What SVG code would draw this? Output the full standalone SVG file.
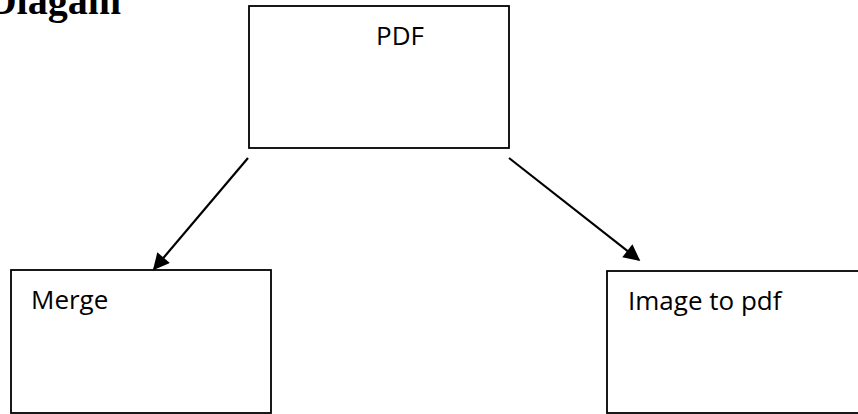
<svg xmlns="http://www.w3.org/2000/svg" width="858" height="414" viewBox="0 0 858 414">
<style>
.box{fill:#fff;stroke:#000;stroke-width:1.8}
.lbl{font-family:"Open Sans","Liberation Sans",sans-serif;font-size:26px;fill:#000}
.con{stroke:#000;stroke-width:2.2;fill:none}
.title{font-family:"Liberation Serif",serif;font-weight:bold;font-size:40px;fill:#000}
</style>
<defs>
<marker id="arr" viewBox="0 0 10 10" refX="9" refY="5" markerWidth="8" markerHeight="7.5" markerUnits="strokeWidth" orient="auto">
<path d="M0,0 L10,5 L0,10 Z" fill="#000"/>
</marker>
</defs>
<rect width="858" height="414" fill="#fff"/>
<text class="title" x="121" y="14" text-anchor="end">Diagam</text>
<g id="connectors">
<line class="con" x1="248" y1="158" x2="154" y2="269" marker-end="url(#arr)"/>
<line class="con" x1="509" y1="158" x2="639" y2="260" marker-end="url(#arr)"/>
</g>
<g id="node-pdf">
<rect class="box" x="249" y="6" width="260" height="142"/>
<text class="lbl" x="376" y="45">PDF</text>
</g>
<g id="node-merge">
<rect class="box" x="11" y="270" width="260" height="143"/>
<text class="lbl" x="31" y="309">Merge</text>
</g>
<g id="node-image">
<rect class="box" x="607" y="271" width="262" height="142"/>
<text class="lbl" x="628" y="310">Image to pdf</text>
</g>
</svg>
